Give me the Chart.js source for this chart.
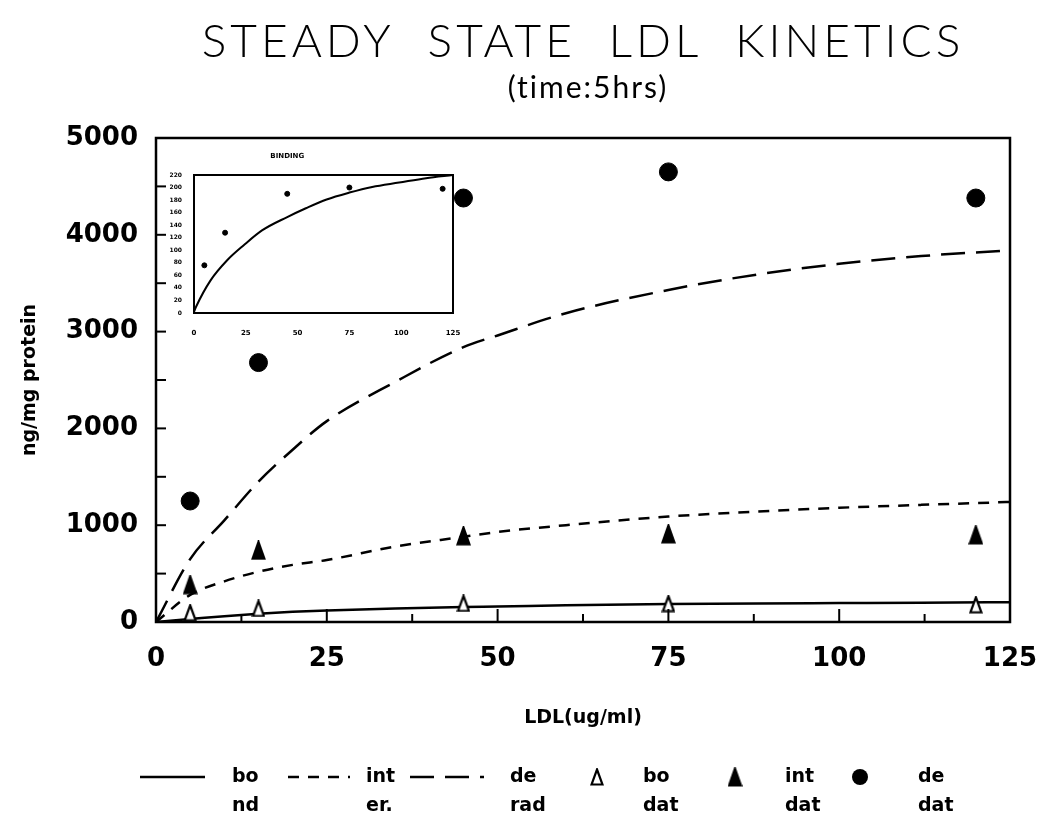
<!DOCTYPE html>
<html>
<head>
<meta charset="utf-8">
<title>Steady State LDL Kinetics</title>
<script src="https://cdn.jsdelivr.net/npm/chart.js@4.4.1/dist/chart.umd.min.js"></script>
<style>
  html, body { margin: 0; padding: 0; background: #fff; }
  #wrap { position: relative; width: 1038px; height: 827px; }
  #main { position: absolute; left: 0; top: 0; }
  #inset { position: absolute; left: 160px; top: 140px; }
</style>
</head>
<body>
<div id="wrap">
  <canvas id="main" width="1038" height="827"></canvas>
  <canvas id="inset" width="300" height="200"></canvas>
</div>
<script>
// measured points (LDL ug/ml -> ng/mg protein)
const ldlDoses = [5, 15, 45, 75, 120]
const boundData = [95, 140, 192, 190, 178]
const internalData = [385, 740, 890, 910, 900]
const degradedData = [1250, 2680, 4380, 4650, 4380]

// fitted curves
const fitDoses = [0, 5, 10, 15, 20, 25, 35, 45, 50, 60, 75, 88, 100, 112, 125]
const boundFit = [0, 30, 60, 85, 105, 120, 140, 155, 160, 172, 185, 192, 196, 200, 205]
const internalFit = [0, 280, 420, 520, 590, 640, 780, 880, 930, 1000, 1090, 1140, 1180, 1210, 1240]
const degradedFit = [0, 650, 1050, 1450, 1780, 2075, 2480, 2840, 2960, 3190, 3430, 3590, 3700, 3780, 3840]

// small binding panel
const insetDoses = [5, 15, 45, 75, 120]
const insetBound = [76, 128, 190, 200, 198]
const insetFitDoses = [0, 1, 8, 16, 24, 33, 45, 54, 64, 75, 86, 99, 112, 125]
const insetFit = [2, 10, 52, 84, 108, 132, 153, 167, 181, 192, 201, 208, 215, 220]

const xTicks = [0, 25, 50, 75, 100, 125]
const yTicks = [0, 1000, 2000, 3000, 4000, 5000]

const black = '#000'
const tickFont = { family: 'DejaVu Sans', size: 26, weight: 'bold' }
const labelFont = { family: 'DejaVu Sans', size: 19, weight: 'bold' }

function toPoints(xs, ys) {
  return xs.map((x, i) => ({ x: x, y: ys[i] }))
}

// plain numbers, no thousands separator
const plain = v => String(v)

// keep the plot box fixed, labels may hang over the edges
function noEdgePadding(s) {
  s.paddingLeft = 0
  s.paddingRight = 0
  s.paddingTop = 0
  s.paddingBottom = 0
}

// narrow triangles like the plotter symbols
function triangleMarker(filled, w, h) {
  const c = document.createElement('canvas')
  c.width = w
  c.height = h
  const g = c.getContext('2d')
  g.beginPath()
  g.moveTo(w / 2, 1.5)
  g.lineTo(w - 1.5, h - 1.5)
  g.lineTo(1.5, h - 1.5)
  g.closePath()
  g.fillStyle = filled ? black : '#fff'
  g.fill()
  g.lineWidth = 2.2
  g.strokeStyle = black
  g.stroke()
  return c
}
const openTriangle = triangleMarker(false, 14, 18)
const filledTriangle = triangleMarker(true, 15, 20)

function fitLine(label, data, dash) {
  return {
    type: 'line', label: label, data: toPoints(fitDoses, data),
    borderColor: black, borderWidth: 2.5, borderDash: dash,
    pointRadius: 0, cubicInterpolationMode: 'monotone', fill: false
  }
}
function markers(label, data, style, r) {
  return {
    type: 'scatter', label: label, data: toPoints(ldlDoses, data),
    pointStyle: style, pointRadius: r, pointBackgroundColor: black,
    pointBorderColor: black, pointBorderWidth: 1, showLine: false
  }
}

const legendItems = [
  { kind: 'line', dash: [], x0: 140, x1: 205, tx: 232, text: ['bo', 'nd'] },
  { kind: 'line', dash: [11, 9], x0: 288, x1: 350, tx: 366, text: ['int', 'er.'] },
  { kind: 'line', dash: [24, 11], x0: 410, x1: 484, tx: 510, text: ['de', 'rad'] },
  { kind: 'img', img: openTriangle, x0: 597, tx: 643, text: ['bo', 'dat'] },
  { kind: 'img', img: filledTriangle, x0: 735, tx: 785, text: ['int', 'dat'] },
  { kind: 'dot', x0: 860, tx: 918, text: ['de', 'dat'] }
]

const decorations = {
  id: 'decorations',
  afterDraw(chart) {
    const { ctx, chartArea: a, scales: { x, y } } = chart
    ctx.save()
    ctx.strokeStyle = black
    ctx.fillStyle = black

    // frame
    ctx.lineWidth = 2.5
    ctx.strokeRect(a.left, a.top, a.right - a.left, a.bottom - a.top)

    // inward ticks
    ctx.lineWidth = 2
    for (let v = 500; v < 5000; v += 500) {
      const py = y.getPixelForValue(v)
      ctx.beginPath()
      ctx.moveTo(a.left, py)
      ctx.lineTo(a.left + 10, py)
      ctx.stroke()
    }
    for (let v = 12.5; v < 125; v += 12.5) {
      const px = x.getPixelForValue(v)
      const len = v % 25 === 0 ? 13 : 8
      ctx.beginPath()
      ctx.moveTo(px, a.bottom)
      ctx.lineTo(px, a.bottom - len)
      ctx.stroke()
    }

    // titles
    const cx = (a.left + a.right) / 2
    ctx.textAlign = 'center'
    ctx.textBaseline = 'middle'
    ctx.letterSpacing = '4px'
    ctx.font = '300 46px Lato'
    ctx.fillText('STEADY  STATE  LDL  KINETICS', cx, 42)
    ctx.letterSpacing = '2px'
    ctx.font = '400 30px Lato'
    ctx.fillText('(time:5hrs)', cx + 5, 88)
    ctx.letterSpacing = '0px'

    // legend
    const row1 = 777
    const row2 = 806
    ctx.font = 'bold 19px "DejaVu Sans"'
    ctx.textAlign = 'left'
    legendItems.forEach(item => {
      if (item.kind === 'line') {
        ctx.lineWidth = 2.5
        ctx.setLineDash(item.dash)
        ctx.beginPath()
        ctx.moveTo(item.x0, row1)
        ctx.lineTo(item.x1, row1)
        ctx.stroke()
        ctx.setLineDash([])
      } else if (item.kind === 'img') {
        ctx.drawImage(item.img, item.x0 - item.img.width / 2, row1 - item.img.height / 2)
      } else {
        ctx.beginPath()
        ctx.arc(item.x0, row1, 8, 0, Math.PI * 2)
        ctx.fill()
      }
      ctx.fillText(item.text[0], item.tx, row1)
      ctx.fillText(item.text[1], item.tx, row2)
    })
    ctx.restore()
  }
}

new Chart(document.getElementById('main'), {
  data: {
    datasets: [
      markers('de dat', degradedData, 'circle', 9),
      markers('int dat', internalData, filledTriangle, 9),
      markers('bo dat', boundData, openTriangle, 9),
      fitLine('bound', boundFit, []),
      fitLine('inter.', internalFit, [11, 9]),
      fitLine('degrad', degradedFit, [24, 11])
    ]
  },
  options: {
    responsive: false,
    animation: false,
    layout: { padding: { top: 138, right: 28, bottom: 95, left: 0 } },
    plugins: { legend: { display: false }, tooltip: { enabled: false } },
    scales: {
      x: {
        type: 'linear', min: 0, max: 125,
        afterBuildTicks: s => { s.ticks = xTicks.map(v => ({ value: v })) },
        afterFit: s => { s.height = 110; noEdgePadding(s) },
        grid: { display: false },
        border: { display: false },
        ticks: { color: black, font: tickFont, padding: 14, maxRotation: 0, callback: plain },
        title: {
          display: true, text: 'LDL(ug/ml)', color: black, font: labelFont,
          padding: { top: 0, bottom: 3 }
        }
      },
      y: {
        type: 'linear', min: 0, max: 5000,
        afterBuildTicks: s => { s.ticks = yTicks.map(v => ({ value: v })) },
        afterFit: s => { s.width = 156; noEdgePadding(s) },
        grid: { display: false },
        border: { display: false },
        ticks: { color: black, font: tickFont, padding: 10, callback: plain },
        title: {
          display: true, text: 'ng/mg protein', color: black, font: labelFont,
          padding: { top: 19, bottom: 0 }
        }
      }
    }
  },
  plugins: [decorations]
})

// binding panel in the upper left
const insetFrame = {
  id: 'insetFrame',
  afterDraw(chart) {
    const { ctx, chartArea: a } = chart
    ctx.save()
    ctx.strokeStyle = black
    ctx.lineWidth = 2
    ctx.strokeRect(a.left, a.top, a.right - a.left, a.bottom - a.top)
    ctx.fillStyle = black
    ctx.font = 'bold 7px "DejaVu Sans"'
    ctx.textAlign = 'center'
    ctx.textBaseline = 'middle'
    ctx.fillText('BINDING', a.left + (a.right - a.left) * 0.36, 16)
    ctx.restore()
  }
}

new Chart(document.getElementById('inset'), {
  data: {
    datasets: [
      {
        type: 'scatter', data: toPoints(insetDoses, insetBound),
        pointStyle: 'circle', pointRadius: 2.5, pointBackgroundColor: black,
        pointBorderColor: black, showLine: false
      },
      {
        type: 'line', data: toPoints(insetFitDoses, insetFit),
        borderColor: black, borderWidth: 2, pointRadius: 0,
        cubicInterpolationMode: 'monotone', fill: false
      }
    ]
  },
  options: {
    responsive: false,
    animation: false,
    layout: { padding: { top: 35, right: 7, bottom: 0, left: 0 } },
    plugins: { legend: { display: false }, tooltip: { enabled: false } },
    scales: {
      x: {
        type: 'linear', min: 0, max: 125,
        ticks: { stepSize: 25, color: black, font: { family: 'DejaVu Sans', size: 7, weight: 'bold' }, padding: 8, maxRotation: 0 },
        afterFit: s => { s.height = 27; noEdgePadding(s) },
        grid: { display: false },
        border: { display: false }
      },
      y: {
        type: 'linear', min: 0, max: 220,
        ticks: { stepSize: 20, color: black, font: { family: 'DejaVu Sans', size: 6, weight: 'bold' }, padding: 4 },
        afterFit: s => { s.width = 34; noEdgePadding(s) },
        grid: { display: false },
        border: { display: false }
      }
    }
  },
  plugins: [insetFrame]
})
</script>
</body>
</html>
